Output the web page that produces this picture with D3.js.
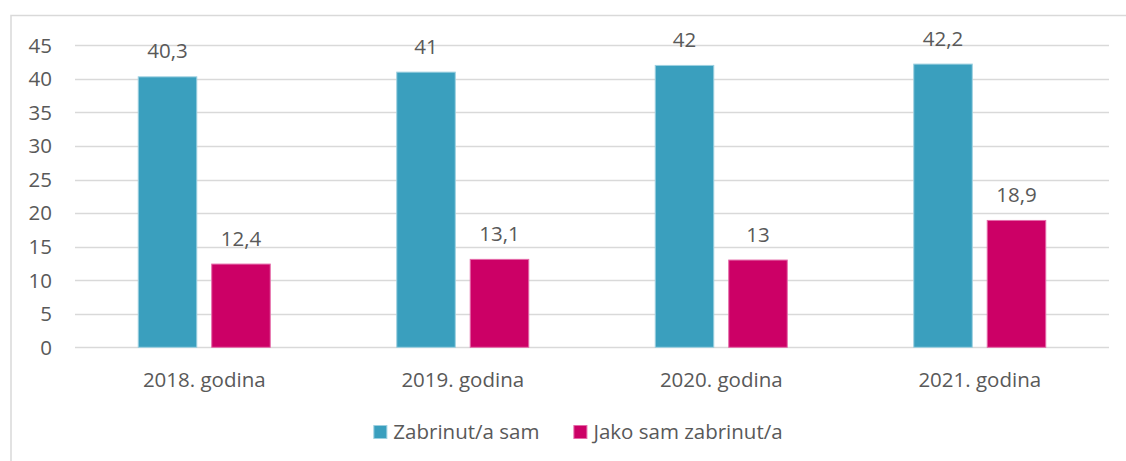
<!DOCTYPE html>
<meta charset="utf-8">
<style>
body { margin: 0; background: #fff; }
text { font-family: "Open Sans", sans-serif; fill: #595959; }
</style>
<body>
<script src="https://d3js.org/d3.v7.min.js"></script>
<script>

var categories = ["2018. godina", "2019. godina", "2020. godina", "2021. godina"];
var seriesNames = ["Zabrinut/a sam", "Jako sam zabrinut/a"];
var zabrinut = [40.3, 41, 42, 42.2];
var jakoZabrinut = [12.4, 13.1, 13, 18.9];
var yTicks = [0, 5, 10, 15, 20, 25, 30, 35, 40, 45];

var width = 1126,
    height = 461,
    fontSize = 20.5;

var colors = ["#3a9fbe", "#cc0066"],
    strokes = ["#9dd0e0", "#e46aa9"];

var svg = d3.select("body").append("svg")
    .attr("width", width)
    .attr("height", height);

// chart frame (right and bottom edges fall outside the picture)
svg.append("rect")
    .attr("x", 11).attr("y", 15.5)
    .attr("width", 1300).attr("height", 600)
    .attr("fill", "none")
    .attr("stroke", "#d9d9d9")
    .attr("stroke-width", 1.5);

var x0 = d3.scaleBand()
    .domain(categories)
    .range([75, 1109])
    .paddingInner(0.4855)
    .paddingOuter(0.4855 / 2);

var x1 = d3.scaleBand()
    .domain(d3.range(seriesNames.length))
    .range([0, x0.bandwidth()])
    .paddingInner(0.19);

var y = d3.scaleLinear()
    .domain([0, 45])
    .range([347.3, 45.3]);

// gridlines
svg.append("g")
  .selectAll("line")
  .data(yTicks)
  .enter().append("line")
    .attr("x1", 75).attr("x2", 1109)
    .attr("y1", function(d) { return Math.round(y(d)) + 0.5; })
    .attr("y2", function(d) { return Math.round(y(d)) + 0.5; })
    .attr("stroke", "#d9d9d9")
    .attr("stroke-width", 1.5);

// y axis labels
svg.append("g")
  .selectAll("text")
  .data(yTicks)
  .enter().append("text")
    .attr("x", 52)
    .attr("y", function(d) { return y(d); })
    .attr("dy", "0.36em")
    .attr("text-anchor", "end")
    .style("font-size", fontSize + "px")
    .text(function(d) { return d; });

var rows = categories.map(function(c, i) {
  return { cat: c, values: [zabrinut[i], jakoZabrinut[i]] };
});

var groups = svg.append("g")
  .selectAll("g")
  .data(rows)
  .enter().append("g")
    .attr("transform", function(d) { return "translate(" + x0(d.cat) + ",0)"; });

var bars = groups.selectAll("g")
  .data(function(d) { return d.values.map(function(v, s) { return { s: s, v: v }; }); })
  .enter().append("g");

bars.append("rect")
    .attr("x", function(d) { return x1(d.s) + 0.5; })
    .attr("y", function(d) { return y(d.v); })
    .attr("width", x1.bandwidth() - 1)
    .attr("height", function(d) { return y(0) - y(d.v); })
    .attr("fill", function(d) { return colors[d.s]; })
    .attr("stroke", function(d) { return strokes[d.s]; })
    .attr("stroke-width", 1);

bars.append("text")
    .attr("x", function(d) { return x1(d.s) + x1.bandwidth() / 2; })
    .attr("y", function(d) { return y(d.v) - 18.5; })
    .attr("text-anchor", "middle")
    .style("font-size", fontSize + "px")
    .text(function(d) { return String(d.v).replace(".", ","); });

// category labels
svg.append("g")
  .selectAll("text")
  .data(categories)
  .enter().append("text")
    .attr("x", function(d) { return x0(d) + x0.bandwidth() / 2; })
    .attr("y", 387)
    .attr("text-anchor", "middle")
    .style("font-size", fontSize + "px")
    .text(function(d) { return d; });

// legend
var legend = svg.append("g");
var lx = 0;
seriesNames.forEach(function(name, i) {
  var item = legend.append("g").attr("transform", "translate(" + lx + ",0)");
  item.append("rect")
      .attr("x", 0.5).attr("y", 425.5)
      .attr("width", 13).attr("height", 13)
      .attr("fill", colors[i])
      .attr("stroke", strokes[i]);
  var t = item.append("text")
      .attr("x", 20)
      .attr("y", 432)
      .attr("dy", "0.36em")
      .style("font-size", fontSize + "px")
      .text(name);
  lx += 20 + t.node().getComputedTextLength() + 34;
});
var legendWidth = lx - 34;
legend.attr("transform", "translate(" + (578 - legendWidth / 2) + ",0)");

</script>
